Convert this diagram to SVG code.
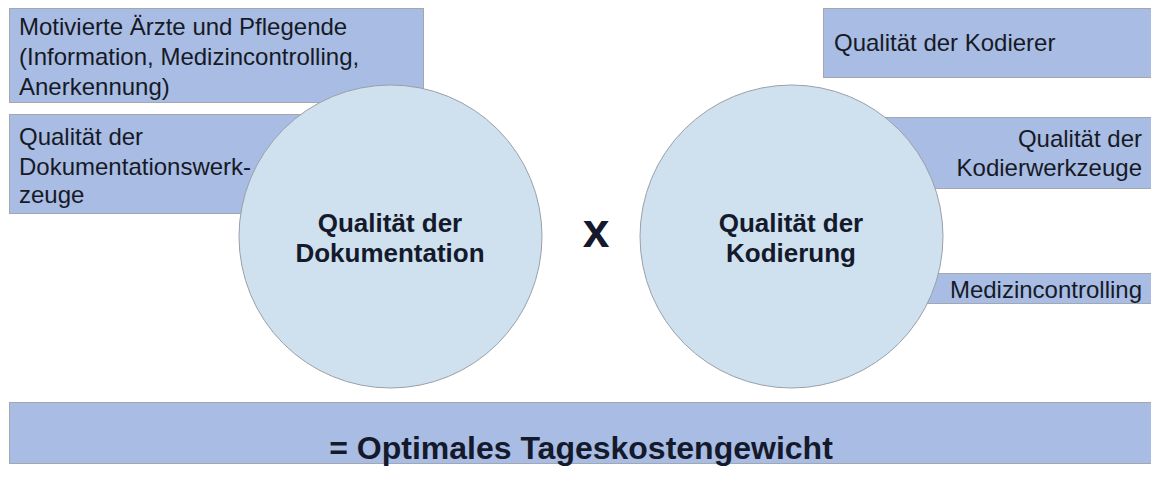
<svg xmlns="http://www.w3.org/2000/svg" width="1151" height="479" viewBox="0 0 1151 479">
  <style>
    .box { fill: #A9BCE3; stroke: #A3A8B0; stroke-width: 1; }
    .circ { fill: #CFE0EE; stroke: #9AA0A8; stroke-width: 1; }
    .t { font-family: "Liberation Sans", Arial, sans-serif; font-size: 24px; fill: #161a26; }
    .b { font-family: "Liberation Sans", Arial, sans-serif; font-weight: bold; fill: #141a2c; }
  </style>
  <rect width="1151" height="479" fill="#ffffff"/>
  <g id="box-aerzte">
    <rect class="box" x="9.5" y="8.5" width="414" height="94"/>
    <text class="t" x="19" y="35">Motivierte Ärzte und Pflegende</text>
    <text class="t" x="19" y="65">(Information, Medizincontrolling,</text>
    <text class="t" x="19" y="95">Anerkennung)</text>
  </g>
  <g id="box-dokwerkzeuge">
    <rect class="box" x="9.5" y="114.5" width="320" height="99"/>
    <text class="t" x="19" y="145">Qualität der</text>
    <text class="t" x="19" y="175">Dokumentationswerk-</text>
    <text class="t" x="19" y="203">zeuge</text>
  </g>
  <g id="box-kodierer">
    <rect class="box" x="823.5" y="8.5" width="330" height="69"/>
    <text class="t" x="834" y="51">Qualität der Kodierer</text>
  </g>
  <g id="box-kodierwerkzeuge">
    <rect class="box" x="860.5" y="117.5" width="293" height="71"/>
    <text class="t" x="1142" y="147" text-anchor="end">Qualität der</text>
    <text class="t" x="1142" y="176" text-anchor="end">Kodierwerkzeuge</text>
  </g>
  <g id="box-medizincontrolling">
    <rect class="box" x="900.5" y="273.5" width="253" height="30"/>
    <text class="t" x="1142" y="298" text-anchor="end">Medizincontrolling</text>
  </g>
  <g id="circle-dokumentation">
    <circle class="circ" cx="390.5" cy="236.5" r="151.5"/>
    <text class="b" x="390" y="232" font-size="26" text-anchor="middle">Qualität der</text>
    <text class="b" x="390" y="262" font-size="26" text-anchor="middle">Dokumentation</text>
  </g>
  <g id="times">
    <text class="b" x="596" y="247" font-size="48" text-anchor="middle">x</text>
  </g>
  <g id="circle-kodierung">
    <circle class="circ" cx="791.5" cy="236.5" r="151.5"/>
    <text class="b" x="791" y="232" font-size="26" text-anchor="middle">Qualität der</text>
    <text class="b" x="791" y="262" font-size="26" text-anchor="middle">Kodierung</text>
  </g>
  <g id="result">
    <rect class="box" x="9.5" y="402.5" width="1144" height="61"/>
    <text class="b" x="581" y="459" font-size="32" text-anchor="middle">= Optimales Tageskostengewicht</text>
  </g>
  <g id="connectors"></g>
</svg>
